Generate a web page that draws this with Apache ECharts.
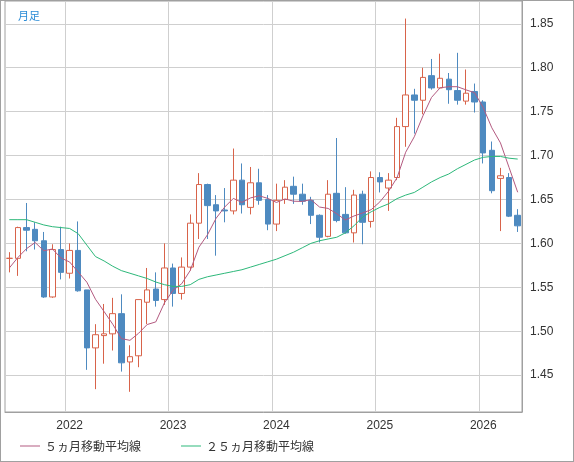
<!DOCTYPE html>
<html><head><meta charset="utf-8">
<script src="https://cdn.jsdelivr.net/npm/echarts@6/dist/echarts.min.js"></script>
<style>html,body{margin:0;padding:0;background:#fff}#c{width:572px;height:460px;border:1px solid #a0a0a0}</style>
</head><body><div id="c"></div>
<script>
const months = [];
for (let y = 2021, m = 6; months.length < 60; ) { months.push(y + '-' + String(m).padStart(2, '0')); m++; if (m > 12) { m = 1; y++; } }
const opens  = [1.583,1.583,1.618,1.616,1.603,1.539,1.593,1.566,1.592,1.547,1.481,1.495,1.497,1.520,1.465,1.472,1.533,1.548,1.536,1.572,1.543,1.573,1.623,1.667,1.644,1.638,1.637,1.672,1.641,1.669,1.650,1.622,1.650,1.665,1.656,1.649,1.632,1.608,1.657,1.633,1.612,1.656,1.625,1.675,1.663,1.675,1.733,1.769,1.763,1.791,1.777,1.787,1.774,1.762,1.773,1.761,1.706,1.674,1.675,1.632];
const closes = [1.583,1.618,1.615,1.603,1.539,1.593,1.567,1.592,1.546,1.481,1.496,1.497,1.520,1.464,1.471,1.536,1.547,1.535,1.572,1.543,1.573,1.623,1.667,1.643,1.637,1.637,1.672,1.644,1.669,1.649,1.622,1.649,1.664,1.656,1.648,1.632,1.607,1.656,1.626,1.612,1.655,1.624,1.675,1.670,1.672,1.733,1.769,1.763,1.789,1.777,1.788,1.775,1.763,1.771,1.761,1.703,1.660,1.677,1.631,1.620];
const highs  = [1.590,1.619,1.646,1.624,1.613,1.599,1.619,1.600,1.625,1.547,1.508,1.531,1.538,1.542,1.484,1.536,1.572,1.567,1.600,1.577,1.584,1.633,1.680,1.668,1.655,1.663,1.708,1.691,1.687,1.685,1.655,1.668,1.672,1.676,1.668,1.653,1.633,1.672,1.720,1.664,1.661,1.660,1.682,1.681,1.680,1.743,1.856,1.776,1.800,1.810,1.816,1.794,1.817,1.798,1.782,1.763,1.716,1.686,1.680,1.639];
const lows   = [1.567,1.563,1.591,1.593,1.538,1.538,1.559,1.560,1.545,1.456,1.434,1.463,1.478,1.454,1.431,1.459,1.508,1.528,1.530,1.528,1.536,1.569,1.605,1.605,1.586,1.624,1.633,1.634,1.633,1.644,1.615,1.614,1.645,1.645,1.644,1.622,1.601,1.607,1.624,1.611,1.601,1.599,1.618,1.658,1.637,1.672,1.710,1.725,1.747,1.775,1.777,1.759,1.758,1.758,1.749,1.691,1.657,1.614,1.630,1.613];
const ma5Start = [1.572,1.584,1.594,1.601];
const ma25 = [1.627,1.627,1.627,1.624,1.621,1.619,1.618,1.617,1.611,1.598,1.585,1.580,1.574,1.569,1.566,1.563,1.560,1.556,1.553,1.551,1.551,1.553,1.559,1.562,1.564,1.566,1.568,1.570,1.573,1.576,1.579,1.582,1.586,1.590,1.595,1.600,1.603,1.605,1.607,1.612,1.620,1.630,1.636,1.641,1.645,1.651,1.655,1.658,1.664,1.670,1.675,1.679,1.685,1.690,1.695,1.698,1.699,1.699,1.697,1.696];
const yTicks = [1.45,1.50,1.55,1.60,1.65,1.70,1.75,1.80,1.85];

const ma5 = closes.map((c, i) => i < 4 ? ma5Start[i] : +(closes.slice(i - 4, i + 1).reduce((a, b) => a + b, 0) / 5).toFixed(4));
const kdata = months.map((m, i) => [opens[i], closes[i], lows[i], highs[i]]);
const isJan = (i, v) => String(v).endsWith('-01');

const chart = echarts.init(document.getElementById('c'));
chart.setOption({
  animation: false,
  backgroundColor: '#fff',
  title: { text: '月足', left: 12, top: 4, textStyle: { color: '#2a8bd6', fontSize: 11, fontWeight: 'normal', fontFamily: 'Noto Sans CJK JP' } },
  grid: { left: 4, right: 51, top: 0, bottom: 49, show: true, borderColor: '#a0a0a0', borderWidth: 1 },
  legend: {
    left: 14, bottom: 4, itemWidth: 20, itemHeight: 1, itemGap: 40,
    textStyle: { color: '#333', fontSize: 12, fontFamily: 'Noto Sans CJK JP' },
    data: [{ name: '５ヵ月移動平均線', icon: 'rect' }, { name: '２５ヵ月移動平均線', icon: 'rect' }]
  },
  xAxis: {
    type: 'category', data: months, boundaryGap: true,
    axisLine: { lineStyle: { color: '#a0a0a0' } }, axisTick: { show: false },
    axisLabel: { interval: isJan, formatter: v => v.slice(0, 4), color: '#333', fontSize: 12, margin: 8 },
    splitLine: { show: true, interval: isJan, lineStyle: { color: '#cfcfcf' } }
  },
  yAxis: {
    type: 'value', position: 'right', min: 1.408, max: 1.876, scale: true,
    axisLine: { show: true, lineStyle: { color: '#a0a0a0' } },
    axisTick: { show: false, customValues: yTicks },
    axisLabel: { customValues: yTicks, formatter: v => v.toFixed(2), color: '#333', fontSize: 12, margin: 8 },
    splitLine: { show: true, lineStyle: { color: '#cfcfcf' } }
  },
  series: [
    { type: 'candlestick', data: kdata, barWidth: 6,
      itemStyle: { color: '#ffffff', color0: '#4e8ac0', borderColor: '#d8634a', borderColor0: '#4e8ac0', borderWidth: 1 } },
    { name: '５ヵ月移動平均線', type: 'line', data: ma5, symbol: 'none', lineStyle: { color: '#b35a80', width: 1 }, itemStyle: { color: '#b35a80' } },
    { name: '２５ヵ月移動平均線', type: 'line', data: ma25, symbol: 'none', lineStyle: { color: '#2db87a', width: 1 }, itemStyle: { color: '#2db87a' } }
  ]
});
</script></body></html>
